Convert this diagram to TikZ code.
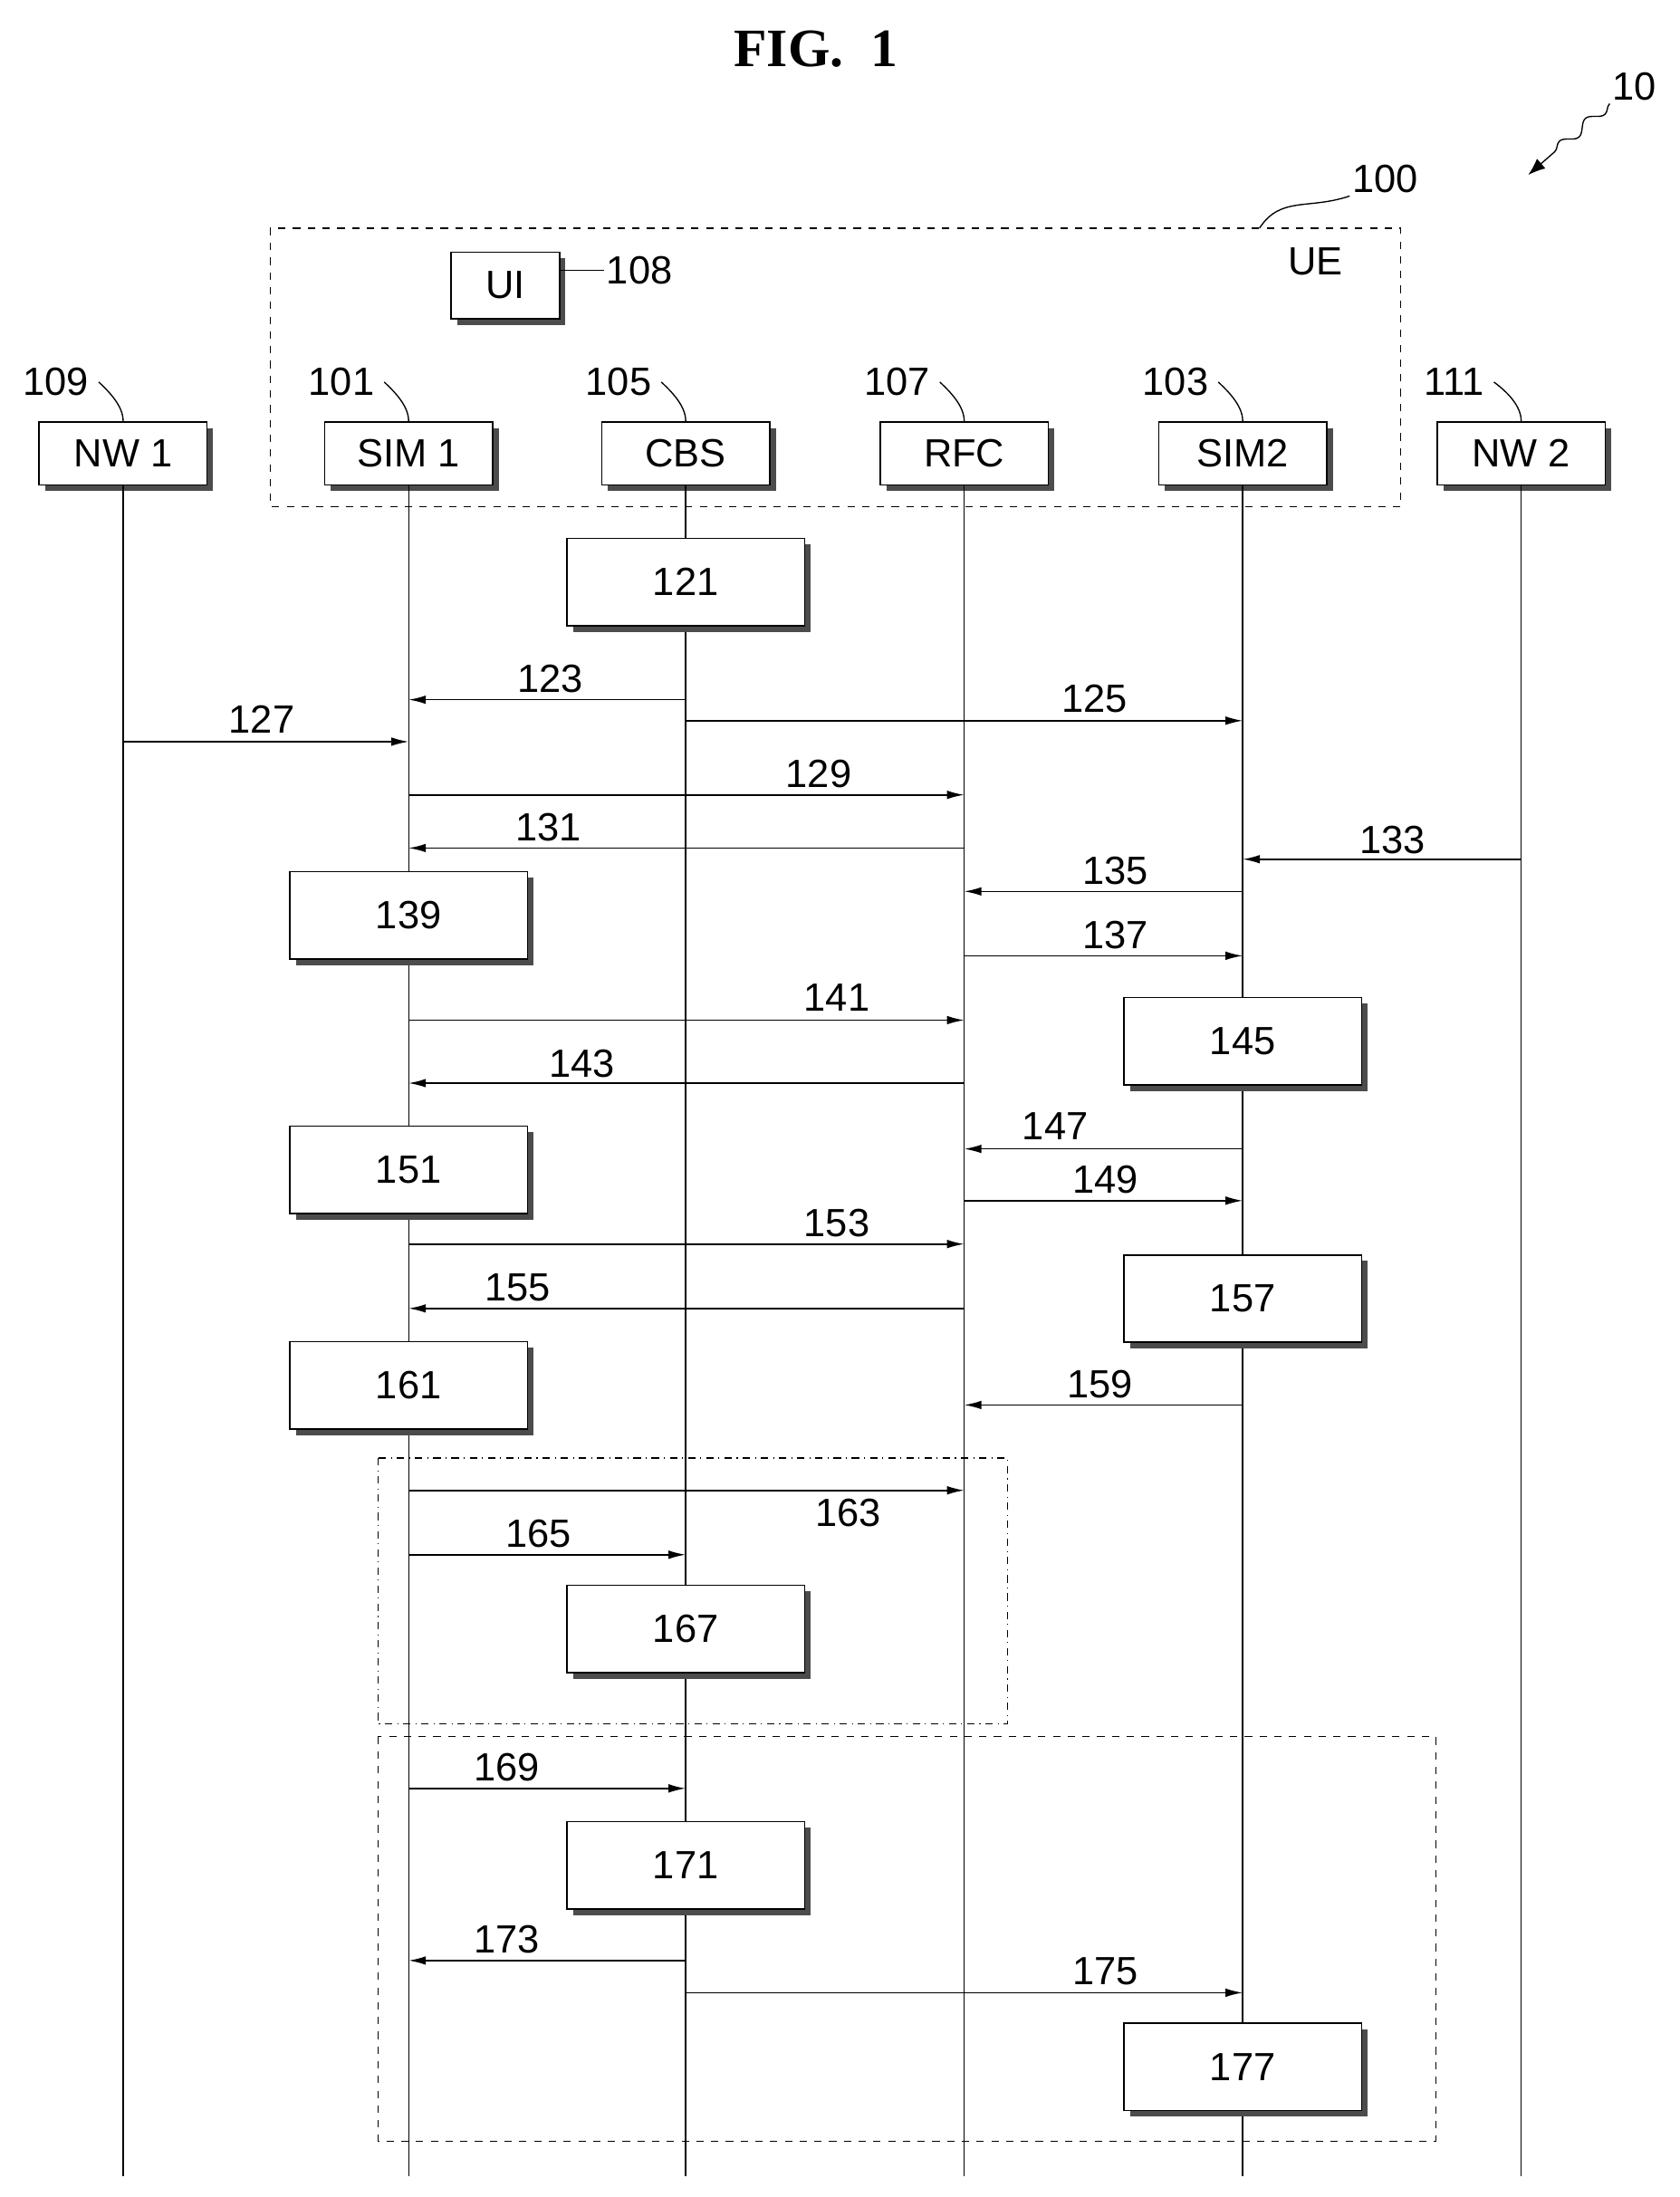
\documentclass[tikz,border=0pt]{standalone}
\usepackage{fontspec}
\setmainfont{Liberation Sans}
\newfontfamily\figfont{Liberation Serif}
\usetikzlibrary{arrows.meta,decorations.pathmorphing}
\begin{document}
\begin{tikzpicture}[
		x=0.02cm, y=-0.02cm,
		font=\fontsize{16}{18}\selectfont,
		box/.style={
				draw,
				fill=white,
				line width=.6pt,
				minimum width=#1,
				inner sep=0pt,
				preaction={fill=black!70, transform canvas={xshift=2.5pt, yshift=-2.5pt}},
			},
		box/.default=2.4cm,
		head/.style={box=2.4cm, minimum height=.9cm},
		proc/.style={box=3.4cm, minimum height=1.25cm},
		life/.style={line width=.5pt},
		msg/.style={line width=.6pt, -{Latex[length=7pt,width=3.5pt]}},
		tag/.style={inner sep=1pt},
		lead/.style={line width=.5pt},
	]
	\useasboundingbox (0,0) rectangle (1200,1570);

	\node[font=\figfont\bfseries\fontsize{22}{24}\selectfont] (fig) at (583,35) {FIG.\ \ 1};
	\node[tag] (ten) at (1168,62) {10};
	\coordinate (tenend) at (1092,125);
	\draw[lead, -{Latex[length=7pt]}, decorate, decoration={snake, amplitude=2pt, segment length=14pt, post length=10pt}] (ten.south west) -- (tenend);

	% UE frame
	\draw[dashed, line width=.5pt] (193,163) rectangle (1001,362);
	\node (ue) at (940,187) {UE};
	\node[tag] (ref100) at (990,128) {100};
	\draw[lead] (ref100.south west) .. controls (935,150) and (915,140) .. (900,163);
	\node[box=1.55cm, minimum height=.95cm] (ui) at (361,204) {UI};
	\node[tag] (ref108) at (457,193) {108};
	\draw[lead] (ui.east |- 0,193) -- (ref108.west);

	% entities
	\foreach \n/\t/\x/\r in {nw1/NW 1/88/109, sim1/SIM 1/292/101, cbs/CBS/490/105,
			rfc/RFC/689/107, sim2/SIM2/888/103, nw2/NW 2/1087/111} {
			\node[head] (\n) at (\x,324) {\t};
			\node[tag] (\n r) at (\x-48,273) {\r};
			\draw[lead] (\n r.east) ++(5,0) .. controls (\x-10,280) and (\x,290) .. (\n.north);
			\coordinate (\n end) at (\x,1555);
			\draw[life] (\n) -- (\n end);
		}

	% processing steps
	\foreach \n/\x/\y in {121/490/416, 139/292/654, 145/888/744, 151/292/836,
			157/888/928, 161/292/990, 167/490/1164, 171/490/1333, 177/888/1477} {
			\node[proc] (s\n) at (\x,\y) {\n};
		}

	% messages
	\foreach \a/\b/\y/\l/\lx/\ly in {
			cbs/sim1/500/123/393/485, cbs/sim2/515/125/782/499, nw1/sim1/530/127/187/514,
			sim1/rfc/568/129/585/553, rfc/sim1/606/131/392/591, nw2/sim2/614/133/995/600,
			sim2/rfc/637/135/797/622, rfc/sim2/683/137/797/668, sim1/rfc/729/141/598/713,
			rfc/sim1/774/143/416/760, sim2/rfc/821/147/754/805, rfc/sim2/858/149/790/843,
			sim1/rfc/889/153/598/874, rfc/sim1/935/155/370/920, sim2/rfc/1004/159/786/989,
			sim1/rfc/1065/163/606/1081, sim1/cbs/1111/165/385/1096, sim1/cbs/1278/169/362/1263,
			cbs/sim1/1401/173/362/1386, cbs/sim2/1424/175/790/1409} {
			\draw[msg] (\a |- 0,\y) -- (\b |- 0,\y);
			\node[tag] (m\l) at (\lx,\ly) {\l};
		}

	% option frames
	\draw[dash dot, line width=.5pt] (270,1042) rectangle (720,1232);
	\draw[dashed, line width=.5pt] (270,1241) rectangle (1026,1530);
\end{tikzpicture}
\end{document}
